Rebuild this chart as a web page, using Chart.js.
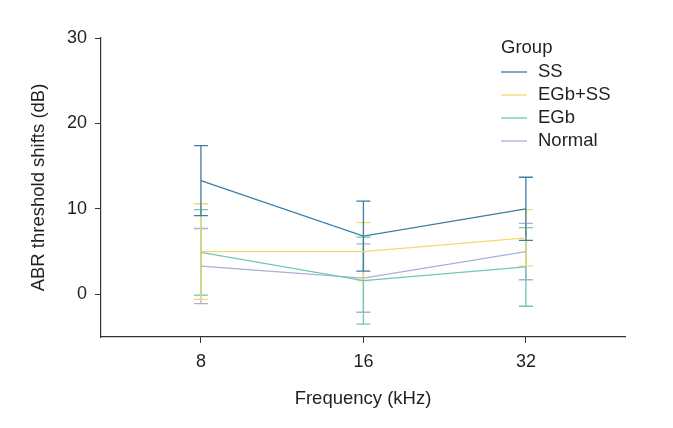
<!DOCTYPE html>
<html>
<head>
<meta charset="utf-8">
<script src="https://cdn.jsdelivr.net/npm/chart.js@4.4.1/dist/chart.umd.min.js"></script>
<style>
  html, body { margin: 0; padding: 0; background: #fff; }
  #wrap { width: 673px; height: 428px; }
</style>
</head>
<body>
<div id="wrap"><canvas id="myChart"></canvas></div>
<script>
// frequencies (kHz)
const categories = ['8', '16', '32'];
const yTicks = [0, 10, 20, 30];

// mean threshold shifts and error (dB)
const ssMean = [13.3, 6.8, 10.0];
const ssErr = [4.1, 4.1, 3.7];
const egbSsMean = [5.0, 5.0, 6.6];
const egbSsErr = [5.6, 3.4, 3.3];
const egbMean = [4.9, 1.6, 3.2];
const egbErr = [5.0, 5.1, 4.6];
const normalMean = [3.3, 1.9, 5.0];
const normalErr = [4.4, 4.0, 3.3];

const textColor = '#231f20';
const family = 'Liberation Sans, Arial, sans-serif';
const tickFont = { family: family, size: 18 };
const titleFont = { family: family, size: 18.5 };

function toPoints(values) {
    return values.map((v, i) => ({ x: i, y: v }));
}

const groups = [
    { label: 'SS', mean: ssMean, err: ssErr, color: '#3d7ea6' },
    { label: 'EGb+SS', mean: egbSsMean, err: egbSsErr, color: '#f3da6f' },
    { label: 'EGb', mean: egbMean, err: egbErr, color: '#72c6b3' },
    { label: 'Normal', mean: normalMean, err: normalErr, color: '#aab1d2' }
];

// error bars drawn under the lines
const errorBars = {
    id: 'errorBars',
    beforeDatasetsDraw(chart) {
        const ctx = chart.ctx;
        const xs = chart.scales.x, ys = chart.scales.y;
        ctx.save();
        ctx.lineWidth = 1.3;
        for (let g = groups.length - 1; g >= 0; g--) {
            const grp = groups[g];
            ctx.strokeStyle = grp.color;
            grp.mean.forEach((m, i) => {
                const px = xs.getPixelForValue(i);
                const top = ys.getPixelForValue(m + grp.err[i]);
                const bot = ys.getPixelForValue(m - grp.err[i]);
                ctx.beginPath();
                ctx.moveTo(px, top); ctx.lineTo(px, bot);
                ctx.moveTo(px - 7, top); ctx.lineTo(px + 7, top);
                ctx.moveTo(px - 7, bot); ctx.lineTo(px + 7, bot);
                ctx.stroke();
            });
        }
        ctx.restore();
    }
};

// legend inside the plot, top right
const groupLegend = {
    id: 'groupLegend',
    afterDraw(chart) {
        const ctx = chart.ctx;
        ctx.save();
        ctx.font = titleFont.size + 'px ' + family;
        ctx.fillStyle = textColor;
        ctx.textBaseline = 'middle';
        ctx.fillText('Group', 501, 48);
        groups.forEach((grp, i) => {
            const y = 72 + i * 23;
            ctx.strokeStyle = grp.color;
            ctx.lineWidth = 1.3;
            ctx.beginPath();
            ctx.moveTo(501, y); ctx.lineTo(527, y);
            ctx.stroke();
            ctx.fillText(grp.label, 538, y);
        });
        ctx.restore();
    }
};

const ctx = document.getElementById('myChart');
new Chart(ctx, {
    type: 'line',
    data: {
        datasets: groups.map(grp => ({
            label: grp.label,
            data: toPoints(grp.mean),
            borderColor: grp.color,
            borderWidth: 1.3,
            pointRadius: 0,
            fill: false,
            tension: 0
        }))
    },
    options: {
        responsive: true,
        maintainAspectRatio: false,
        animation: false,
        layout: { padding: { left: 0, right: 48, top: 38, bottom: 0 } },
        plugins: {
            legend: { display: false },
            tooltip: { enabled: false }
        },
        scales: {
            x: {
                type: 'linear',
                min: -0.615,
                max: 2.61,
                afterBuildTicks(scale) {
                    scale.ticks = categories.map((c, i) => ({ value: i }));
                },
                afterFit(scale) { scale.height = 91; },
                ticks: {
                    callback: (v) => categories[v],
                    color: textColor,
                    font: tickFont,
                    padding: 8,
                    maxRotation: 0
                },
                grid: { drawOnChartArea: false, drawTicks: true, tickLength: 6, color: '#333', lineWidth: 1 },
                border: { display: true, color: '#333', width: 1.2 },
                title: {
                    display: true,
                    text: 'Frequency (kHz)',
                    color: textColor,
                    font: titleFont,
                    padding: { top: 0, bottom: 18 }
                }
            },
            y: {
                min: -5,
                max: 30,
                afterBuildTicks(scale) {
                    scale.ticks = yTicks.map(v => ({ value: v }));
                },
                afterFit(scale) { scale.width = 101; },
                ticks: {
                    color: textColor,
                    font: tickFont,
                    padding: 8
                },
                grid: { drawOnChartArea: false, drawTicks: true, tickLength: 6, color: '#333', lineWidth: 1 },
                border: { display: true, color: '#333', width: 1.2 },
                title: {
                    display: true,
                    text: 'ABR threshold shifts (dB)',
                    color: textColor,
                    font: titleFont,
                    padding: { top: 28, bottom: 0 }
                }
            }
        }
    },
    plugins: [errorBars, groupLegend]
});
</script>
</body>
</html>
